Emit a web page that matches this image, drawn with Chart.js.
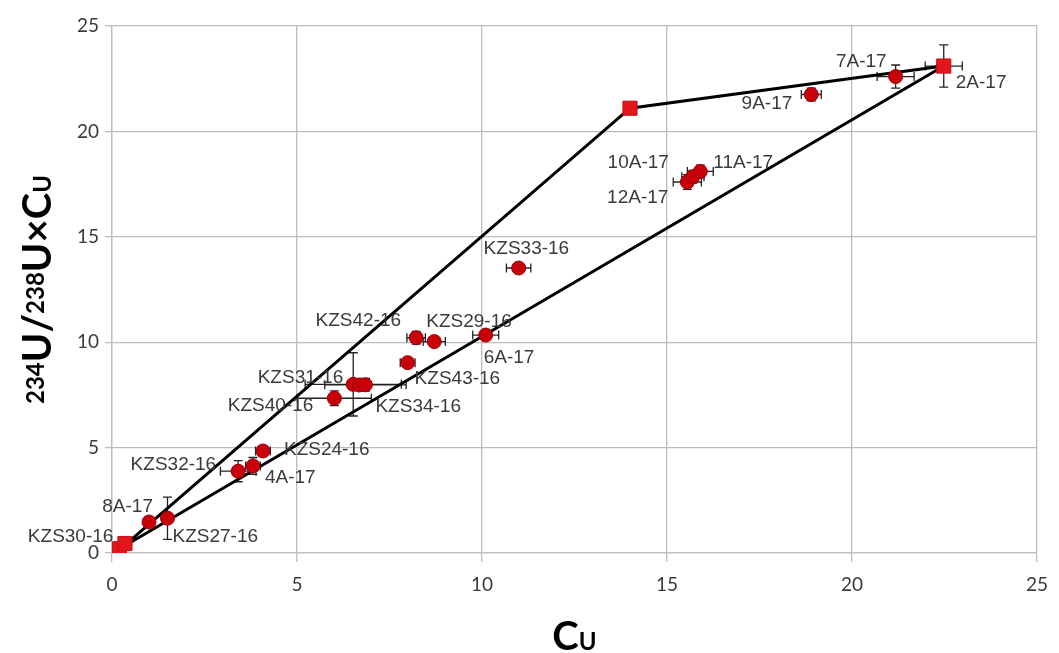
<!DOCTYPE html>
<html><head><meta charset="utf-8">
<script src="https://cdn.jsdelivr.net/npm/chart.js@4"></script>
<style>html,body{margin:0;padding:0;background:#fff}#wrap{width:1059px;height:653px}</style>
</head><body><div id="wrap"><canvas id="c" width="1059" height="653"></canvas></div>
<script>
// ---- data ----
const sampleNames    = ["8A-17","KZS27-16","KZS32-16","4A-17","KZS24-16","KZS40-16","KZS31-16","","KZS34-16","KZS43-16","KZS42-16","KZS29-16","6A-17","KZS33-16","12A-17","10A-17","11A-17","9A-17","7A-17"];
const sampleCu       = [1.0, 1.5, 3.41, 3.81, 4.08, 6.01, 6.52, 6.68, 6.85, 7.99, 8.22, 8.71, 10.1, 10.99, 15.55, 15.7, 15.9, 18.9, 21.18];
const sampleRatio    = [1.47, 1.65, 3.88, 4.13, 4.84, 7.34, 8.0, 7.97, 7.98, 9.03, 10.21, 10.03, 10.34, 13.52, 17.6, 17.85, 18.1, 21.75, 22.6];
const sampleCuErr    = [0, 0.1, 0.48, 0.2, 0.2, 1.0, 1.3, 0, 1.1, 0.2, 0.25, 0.3, 0.35, 0.33, 0.38, 0.3, 0.35, 0.27, 0.5];
const sampleRatioErr = [0, 1.0, 0.5, 0.4, 0.15, 0.35, 1.5, 0, 0.3, 0.15, 0.3, 0.2, 0.2, 0.2, 0.35, 0.3, 0.3, 0.3, 0.55];

const endNames    = ["KZS30-16", "", "", "2A-17"];
const endCu       = [0.2, 0.35, 14.0, 22.48];
const endRatio    = [0.2, 0.45, 21.1, 23.1];
const endCuErr    = [0, 0, 0, 0.5];
const endRatioErr = [0, 0, 0, 1.0];

const mixLineCu    = [0.3, 14.0, 22.48, 0.3];
const mixLineRatio = [0.3, 21.1, 23.1, 0.3];

const xTickValues = [0, 5, 10, 15, 20, 25];
const yTickValues = [0, 5, 10, 15, 20, 25];

// ---- label placement (style only: pixel offsets from the marker) ----
const labelOffsets = {
  "KZS30-16": [-6, -12, "right"], "8A-17": [4, -15, "right"], "KZS27-16": [5, 19, "left"],
  "KZS32-16": [-22, -6, "right"], "4A-17": [12, 12, "left"], "KZS24-16": [21, -1, "left"],
  "KZS40-16": [-21, 7, "right"], "KZS31-16": [-10, -7, "right"], "KZS34-16": [10, 22, "left"],
  "KZS43-16": [7, 16, "left"], "KZS42-16": [-15, -17, "right"], "KZS29-16": [-8, -20, "left"],
  "6A-17": [-2, 23, "left"], "KZS33-16": [-35, -19, "left"], "10A-17": [-24, -14, "right"],
  "11A-17": [13, -9, "left"], "12A-17": [-19, 16, "right"], "9A-17": [-19, 9, "right"],
  "7A-17": [-9, -15, "right"], "2A-17": [12, 17, "left"]
};

const toPts = (xs, ys) => xs.map((x, i) => ({x: x, y: ys[i]}));

const errorBarPlugin = {
  id: 'errorBars',
  beforeDatasetsDraw(chart) {
    const ctx = chart.ctx, xs = chart.scales.x, ys = chart.scales.y;
    ctx.save();
    ctx.strokeStyle = '#222';
    ctx.lineWidth = 1.3;
    chart.data.datasets.forEach(ds => {
      if (!ds.xErr) return;
      ds.data.forEach((p, i) => {
        const px = xs.getPixelForValue(p.x), py = ys.getPixelForValue(p.y);
        const ex = ds.xErr[i], ey = ds.yErr[i], cap = 4.5;
        ctx.beginPath();
        if (ex > 0) {
          const l = xs.getPixelForValue(p.x - ex), r = xs.getPixelForValue(p.x + ex);
          ctx.moveTo(l, py); ctx.lineTo(r, py);
          ctx.moveTo(l, py - cap); ctx.lineTo(l, py + cap);
          ctx.moveTo(r, py - cap); ctx.lineTo(r, py + cap);
        }
        if (ey > 0) {
          const t = ys.getPixelForValue(p.y + ey), b = ys.getPixelForValue(p.y - ey);
          ctx.moveTo(px, t); ctx.lineTo(px, b);
          ctx.moveTo(px - cap, t); ctx.lineTo(px + cap, t);
          ctx.moveTo(px - cap, b); ctx.lineTo(px + cap, b);
        }
        ctx.stroke();
      });
    });
    ctx.restore();
  }
};

const labelPlugin = {
  id: 'pointNames',
  afterDatasetsDraw(chart) {
    const ctx = chart.ctx;
    ctx.save();
    ctx.font = '19px "Liberation Sans", Arial, sans-serif';
    ctx.fillStyle = '#3a3a3a';
    ctx.textBaseline = 'middle';
    chart.data.datasets.forEach((ds, di) => {
      if (!ds.names) return;
      const meta = chart.getDatasetMeta(di);
      ds.names.forEach((n, i) => {
        if (!n || !labelOffsets[n]) return;
        const el = meta.data[i], o = labelOffsets[n];
        ctx.textAlign = o[2];
        ctx.fillText(n, el.x + o[0], el.y + o[1]);
      });
    });
    ctx.restore();
  }
};

function drawRich(ctx, parts) {
  let total = 0;
  parts.forEach(p => { ctx.font = p.font; p.w = ctx.measureText(p.t).width; total += p.w; });
  let x = -total / 2;
  parts.forEach(p => { ctx.font = p.font; ctx.fillText(p.t, x, p.dy); x += p.w; });
}

const titlePlugin = {
  id: 'axisTitles',
  afterDraw(chart) {
    const ctx = chart.ctx, a = chart.chartArea;
    const big = 'bold 40px Lato, "Open Sans", sans-serif';
    const small = 'bold 24px Lato, "Open Sans", sans-serif';
    ctx.save();
    ctx.fillStyle = '#000';
    ctx.textAlign = 'left';
    ctx.textBaseline = 'alphabetic';
    ctx.save();
    ctx.translate(36, (a.top + a.bottom) / 2);
    ctx.rotate(-Math.PI / 2);
    drawRich(ctx, [
      {t: '234', font: small, dy: 8}, {t: 'U', font: big, dy: 15}, {t: '/', font: big, dy: 15},
      {t: '238', font: small, dy: 8}, {t: 'U\u00d7C', font: big, dy: 15}, {t: 'U', font: small, dy: 15}
    ]);
    ctx.restore();
    ctx.save();
    ctx.translate((a.left + a.right) / 2, 650);
    drawRich(ctx, [{t: 'C', font: big, dy: 0}, {t: 'U', font: small, dy: 0}]);
    ctx.restore();
    ctx.restore();
  }
};

const gridColor = '#bdbdbd';
new Chart(document.getElementById('c'), {
  type: 'scatter',
  data: {
    datasets: [
      {
        data: toPts(mixLineCu, mixLineRatio), showLine: true, borderColor: '#000', borderWidth: 3,
        pointRadius: 0, fill: false, order: 3
      },
      {
        data: toPts(endCu, endRatio), names: endNames, xErr: endCuErr, yErr: endRatioErr,
        pointStyle: 'rect', pointRadius: 10, backgroundColor: '#e3161c', borderColor: '#c40f14', borderWidth: 1, order: 2
      },
      {
        data: toPts(sampleCu, sampleRatio), names: sampleNames, xErr: sampleCuErr, yErr: sampleRatioErr,
        pointStyle: 'circle', pointRadius: 7, backgroundColor: '#c8000a', borderColor: '#9a0006', borderWidth: 1, order: 1
      }
    ]
  },
  options: {
    responsive: false, animation: false, devicePixelRatio: 1,
    layout: {padding: {top: 26, right: 15, left: 0, bottom: 0}},
    plugins: {legend: {display: false}, tooltip: {enabled: false}},
    scales: {
      x: {
        type: 'linear', min: 0, max: 25,
        afterBuildTicks(s) { s.ticks = xTickValues.map(v => ({value: v})); },
        ticks: {font: {family: 'Lato', size: 19}, color: '#3a3a3a', padding: 11, maxRotation: 0},
        grid: {color: gridColor, lineWidth: 1.3, tickLength: 9},
        border: {color: gridColor, width: 1.3},
        afterFit(s) { s.height = 100; }
      },
      y: {
        type: 'linear', min: 0, max: 25,
        afterBuildTicks(s) { s.ticks = yTickValues.map(v => ({value: v})); },
        ticks: {font: {family: 'Lato', size: 19}, color: '#3a3a3a', padding: 6},
        grid: {color: gridColor, lineWidth: 1.3, tickLength: 7},
        border: {color: gridColor, width: 1.3},
        afterFit(s) { s.width = 112; }
      }
    }
  },
  plugins: [errorBarPlugin, labelPlugin, titlePlugin]
});
</script>
</body></html>
